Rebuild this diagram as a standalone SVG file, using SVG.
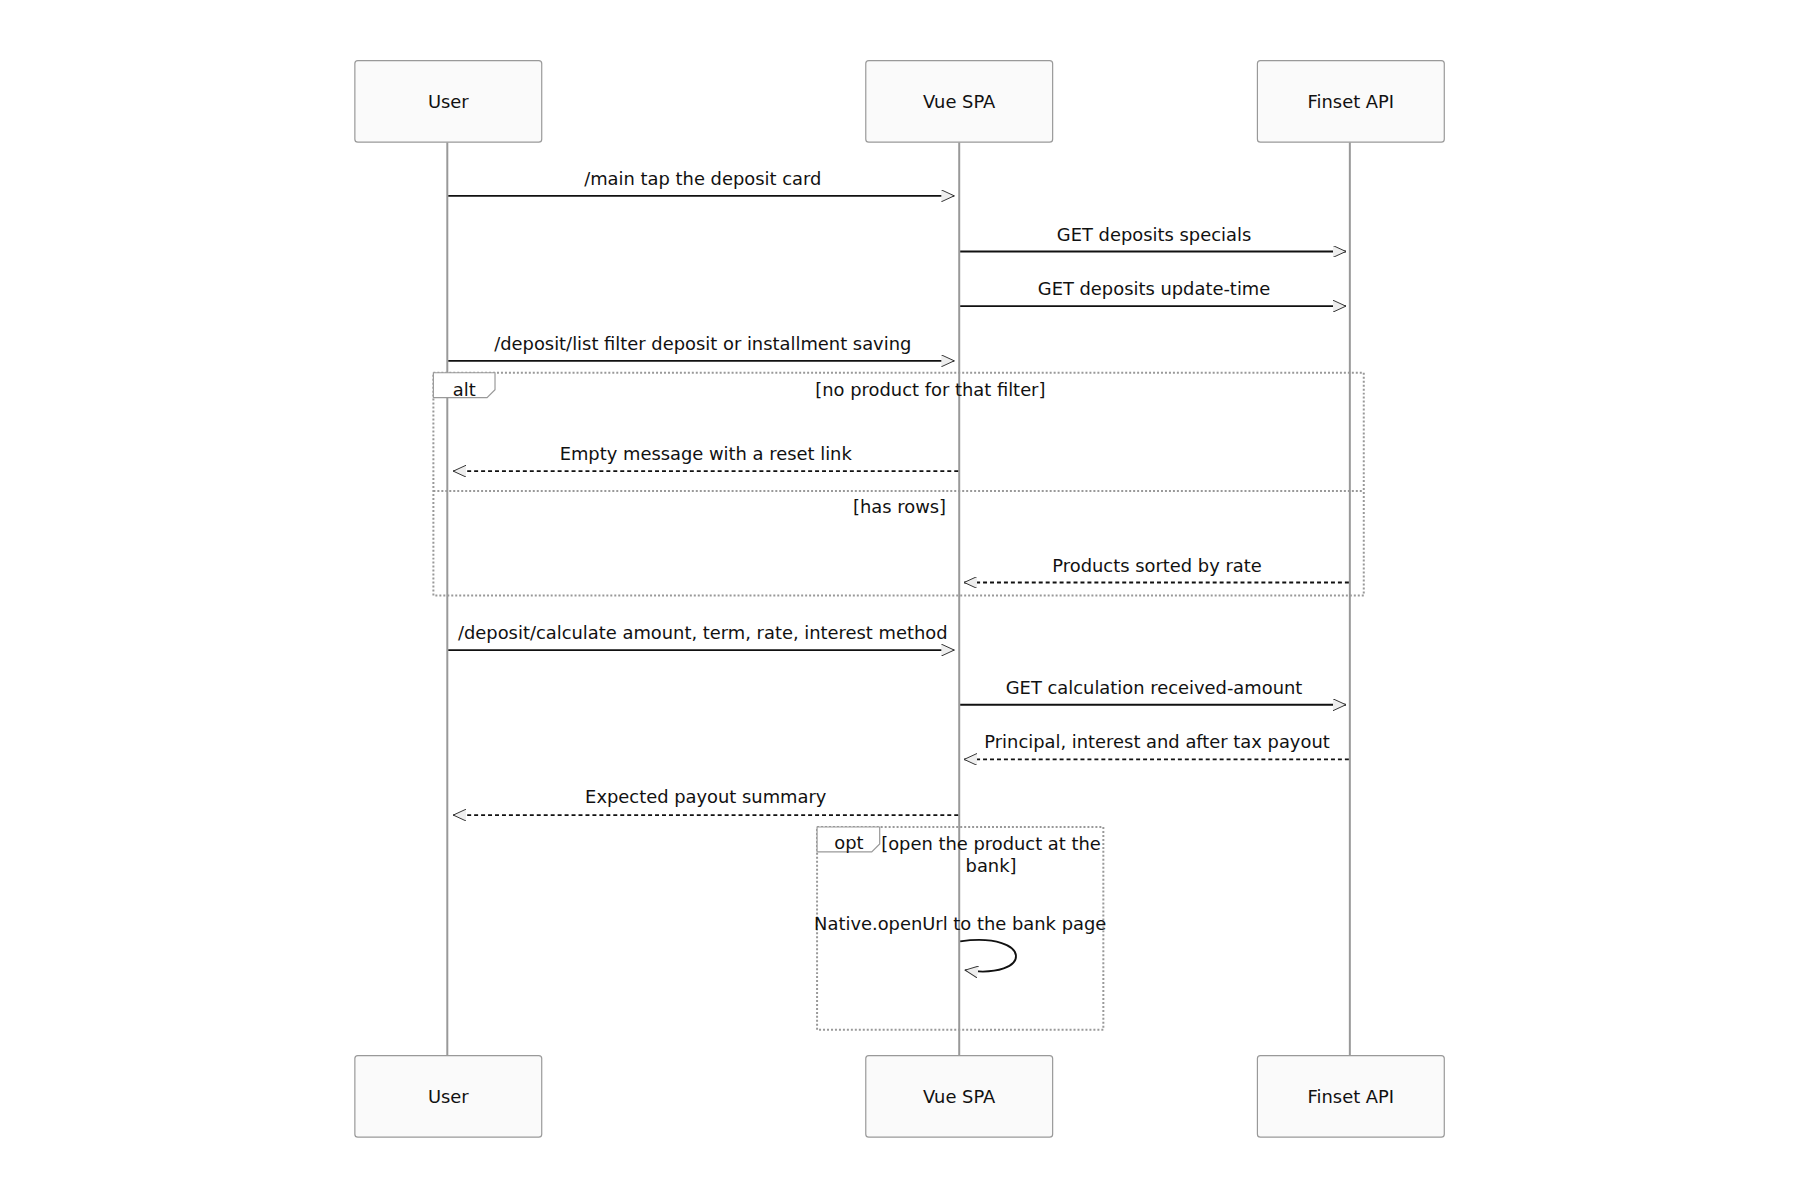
<svg xmlns="http://www.w3.org/2000/svg" width="1800" height="1200" viewBox="0 0 1800 1200">
<style>
text{font-family:"DejaVu Sans",sans-serif;font-size:18px;fill:#111;text-anchor:middle}
.actor{fill:#fafafa;stroke:#999;stroke-width:1.2}
.life{stroke:#999;stroke-width:2}
.msg{stroke:#111;stroke-width:1.8;fill:none}
.dash{stroke-dasharray:4 3}
.frame{fill:none;stroke:#999;stroke-width:2;stroke-dasharray:2 2}
.tab{fill:#fff;stroke:#999;stroke-width:1.2}
</style>
<defs>
<marker id="ah" markerWidth="14" markerHeight="12" refX="13" refY="6" orient="auto" markerUnits="userSpaceOnUse">
<path d="M0,0 L13,6 L0,12" fill="#eee" stroke="#333" stroke-width="1"/>
</marker>
</defs>
<g transform="scale(0.994)">
<g id="lifelines">
<line class="life" x1="450" y1="143" x2="450" y2="1062"/>
<line class="life" x1="965" y1="143" x2="965" y2="1062"/>
<line class="life" x1="1358" y1="143" x2="1358" y2="1062"/>
</g>
<g id="actor-user-top"><rect class="actor" x="357" y="61" width="188" height="82" rx="3"/><text x="451" y="109">User</text></g>
<g id="actor-vue-top"><rect class="actor" x="871" y="61" width="188" height="82" rx="3"/><text x="965" y="109">Vue SPA</text></g>
<g id="actor-finset-top"><rect class="actor" x="1265" y="61" width="188" height="82" rx="3"/><text x="1359" y="109">Finset API</text></g>
<g id="actor-user-bottom"><rect class="actor" x="357" y="1062" width="188" height="82" rx="3"/><text x="451" y="1110">User</text></g>
<g id="actor-vue-bottom"><rect class="actor" x="871" y="1062" width="188" height="82" rx="3"/><text x="965" y="1110">Vue SPA</text></g>
<g id="actor-finset-bottom"><rect class="actor" x="1265" y="1062" width="188" height="82" rx="3"/><text x="1359" y="1110">Finset API</text></g>
<g id="frame-alt">
<rect class="frame" x="436" y="375" width="936" height="224"/>
<path class="tab" d="M436,375 H498 V392 L490,400 H436 Z"/>
<text x="467" y="398">alt</text>
<text x="936" y="398">[no product for that filter]</text>
<line class="frame" x1="436" y1="494" x2="1372" y2="494"/>
<text x="905" y="516">[has rows]</text>
</g>
<g id="frame-opt">
<rect class="frame" x="822" y="832" width="288" height="204"/>
<path class="tab" d="M822,832 H885 V849 L877,857 H822 Z"/>
<text x="854" y="854">opt</text>
<text x="997" y="855">[open the product at the</text>
<text x="997" y="877">bank]</text>
</g>
<g id="connectors">
<line class="msg" x1="451" y1="197" x2="960" y2="197" marker-end="url(#ah)"/>
<text x="707" y="186">/main tap the deposit card</text>
<line class="msg" x1="966" y1="253" x2="1354" y2="253" marker-end="url(#ah)"/>
<text x="1161" y="242">GET deposits specials</text>
<line class="msg" x1="966" y1="308" x2="1354" y2="308" marker-end="url(#ah)"/>
<text x="1161" y="297">GET deposits update-time</text>
<line class="msg" x1="451" y1="363" x2="960" y2="363" marker-end="url(#ah)"/>
<text x="707" y="352">/deposit/list filter deposit or installment saving</text>
<line class="msg dash" x1="964" y1="474" x2="456" y2="474" marker-end="url(#ah)"/>
<text x="710" y="463">Empty message with a reset link</text>
<line class="msg dash" x1="1357" y1="586" x2="970" y2="586" marker-end="url(#ah)"/>
<text x="1164" y="575">Products sorted by rate</text>
<line class="msg" x1="451" y1="654" x2="960" y2="654" marker-end="url(#ah)"/>
<text x="707" y="643">/deposit/calculate amount, term, rate, interest method</text>
<line class="msg" x1="966" y1="709" x2="1354" y2="709" marker-end="url(#ah)"/>
<text x="1161" y="698">GET calculation received-amount</text>
<line class="msg dash" x1="1357" y1="764" x2="970" y2="764" marker-end="url(#ah)"/>
<text x="1164" y="753">Principal, interest and after tax payout</text>
<line class="msg dash" x1="964" y1="820" x2="456" y2="820" marker-end="url(#ah)"/>
<text x="710" y="808">Expected payout summary</text>
<path class="msg" d="M966,947 C1040,937 1040,986 971,976" marker-end="url(#ah)"/>
<text x="966" y="936">Native.openUrl to the bank page</text>
</g>
</g>
</svg>
